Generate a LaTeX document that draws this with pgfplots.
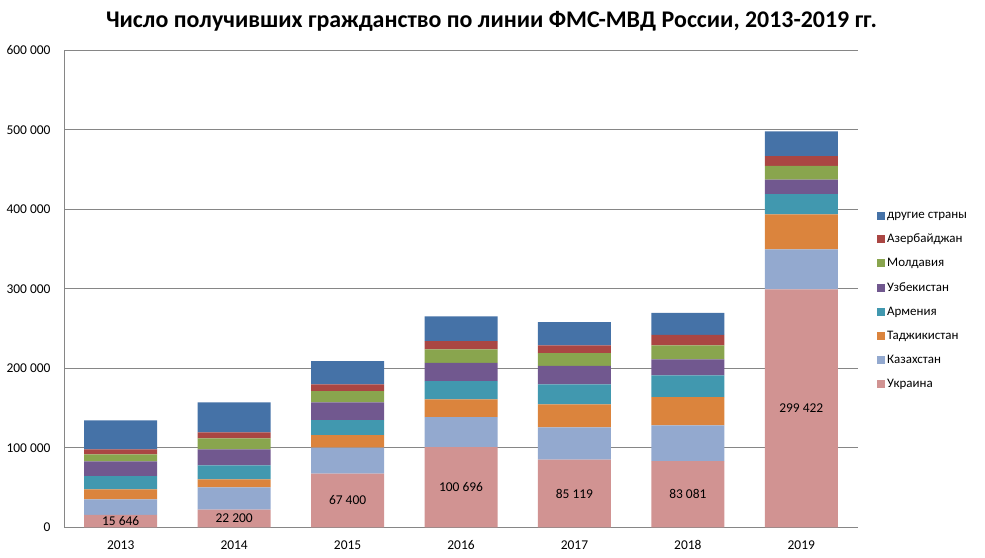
\documentclass[border=0pt]{standalone}
\usepackage{pgfplots}
\pgfplotsset{compat=1.18}
\usepackage{fontspec}
\setmainfont{Carlito}
\definecolor{cOther}{HTML}{4572A7}
\definecolor{cAz}{HTML}{AA4643}
\definecolor{cMold}{HTML}{89A54E}
\definecolor{cUzb}{HTML}{71588F}
\definecolor{cArm}{HTML}{4198AF}
\definecolor{cTaj}{HTML}{DB843D}
\definecolor{cKaz}{HTML}{93A9CF}
\definecolor{cUkr}{HTML}{D19392}
\definecolor{gridc}{HTML}{868686}
\begin{document}
\begin{tikzpicture}[x=1bp,y=1bp]
\useasboundingbox (0,0) rectangle (985,558);
\node[anchor=base,font=\fontsize{24}{28}\selectfont\bfseries] at (491.5,530.7) {Число получивших гражданство по линии ФМС-МВД России, 2013-2019 гг.};
\begin{axis}[
  at={(64bp,30.7bp)}, anchor=south west,
  scale only axis, width=794bp, height=477bp,
  ybar stacked, bar width=73bp,
  xmin=-0.5, xmax=6.5, ymin=0, ymax=600000,
  xtick={0,1,2,3,4,5,6},
  xticklabels={2013,2014,2015,2016,2017,2018,2019},
  ytick={0,100000,200000,300000,400000,500000,600000},
  yticklabels={0,100 000,200 000,300 000,400 000,500 000,600 000},
  scaled y ticks=false,
  axis x line*=bottom, axis y line*=left,
  axis line style={gridc, line width=0.8bp, -},
  major tick length=0pt,
  ymajorgrids, grid style={gridc, line width=0.8bp},
  tick label style={font=\fontsize{13.5}{15}\selectfont, text=black},
  xticklabel style={anchor=base, yshift=-22bp},
  yticklabel style={xshift=-10bp},
  /pgf/number format/assume math mode=true,
  legend style={draw=none, fill=none, at={(1.0239,0.4755)}, anchor=west,
    font=\fontsize{13}{15}\selectfont, row sep=10.2bp, inner sep=0pt},
  legend cell align=left,
  reverse legend,
  legend image code/.code={\fill[#1] (0bp,-4bp) rectangle (8bp,4bp);},
]
\addplot[fill=cUkr, draw=none] coordinates {(0,15646) (1,22200) (2,67400) (3,100696) (4,85119) (5,83081) (6,299422)};
\addplot[fill=cKaz, draw=none] coordinates {(0,19600) (1,28100) (2,32700) (3,38000) (4,40700) (5,45200) (6,50300)};
\addplot[fill=cTaj, draw=none] coordinates {(0,12600) (1,10100) (2,15900) (3,22300) (4,28900) (5,35600) (6,44000)};
\addplot[fill=cArm, draw=none] coordinates {(0,16400) (1,17600) (2,18900) (3,23000) (4,25200) (5,27300) (6,25200)};
\addplot[fill=cUzb, draw=none] coordinates {(0,18800) (1,20100) (2,22200) (3,22700) (4,23000) (5,20100) (6,18500)};
\addplot[fill=cMold, draw=none] coordinates {(0,8800) (1,13900) (2,14200) (3,17200) (4,16300) (5,17600) (6,17100)};
\addplot[fill=cAz, draw=none] coordinates {(0,6300) (1,7500) (2,8500) (3,10400) (4,9700) (5,13000) (6,12500)};
\addplot[fill=cOther, draw=none] coordinates {(0,36500) (1,37700) (2,29200) (3,31100) (4,29000) (5,27700) (6,31100)};
\legend{Украина,Казахстан,Таджикистан,Армения,Узбекистан,Молдавия,Азербайджан,другие страны}
\end{axis}
\begin{axis}[
  at={(64bp,30.7bp)}, anchor=south west,
  scale only axis, width=794bp, height=477bp,
  xmin=-0.5, xmax=6.5, ymin=0, ymax=600000,
  hide axis,
]
\addplot[draw=none, mark=none, nodes near coords, point meta=explicit symbolic,
  every node near coord/.style={anchor=center, font=\fontsize{13.5}{15}\selectfont, text=black, inner sep=0pt}]
  coordinates {(0,7823)[15 646] (1,11100)[22 200] (2,33700)[67 400] (3,50348)[100 696] (4,42560)[85 119] (5,41540)[83 081] (6,149711)[299 422]};
\end{axis}
\end{tikzpicture}
\end{document}
